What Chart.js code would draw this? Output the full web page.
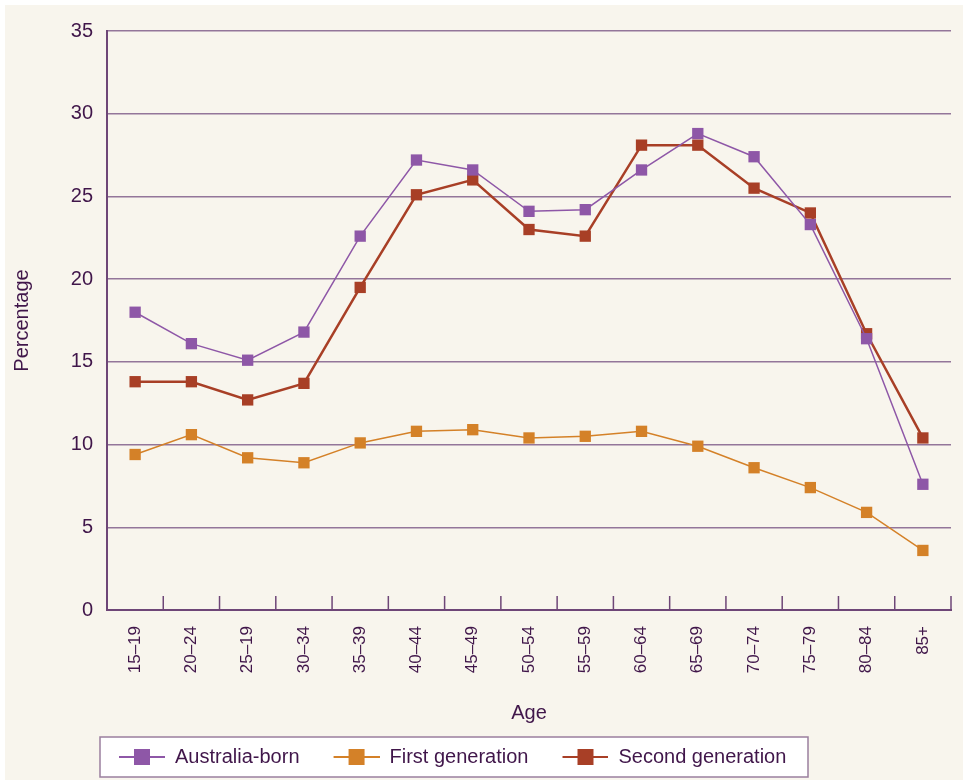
<!DOCTYPE html>
<html>
<head>
<meta charset="utf-8">
<script src="https://cdn.jsdelivr.net/npm/chart.js@4.4.1/dist/chart.umd.min.js"></script>
<style>
  html, body { margin: 0; padding: 0; background: #ffffff; }
  #wrap { position: absolute; left: 5px; top: 5px; width: 958px; height: 775px; background: #f8f5ed; }
  canvas { display: block; }
</style>
</head>
<body>
<div id="wrap"><canvas id="c" width="958" height="775"></canvas></div>
<script>
const ageGroups = ['15–19','20–24','25–19','30–34','35–39','40–44','45–49','50–54','55–59','60–64','65–69','70–74','75–79','80–84','85+'];
const australiaBorn = [18.0, 16.1, 15.1, 16.8, 22.6, 27.2, 26.6, 24.1, 24.2, 26.6, 28.8, 27.4, 23.3, 16.4, 7.6];
const firstGeneration = [9.4, 10.6, 9.2, 8.9, 10.1, 10.8, 10.9, 10.4, 10.5, 10.8, 9.9, 8.6, 7.4, 5.9, 3.6];
const secondGeneration = [13.8, 13.8, 12.7, 13.7, 19.5, 25.1, 26.0, 23.0, 22.6, 28.1, 28.1, 25.5, 24.0, 16.7, 10.4];
const yTicks = [0, 5, 10, 15, 20, 25, 30, 35];

const TEXT = '#40164a';
const GRID = '#93769a';
const AXIS = '#6e4677';
const FONT = "'Liberation Sans', Arial, Helvetica, sans-serif";

function legendMarker(color) {
  const c = document.createElement('canvas');
  c.width = 70; c.height = 18;
  const g = c.getContext('2d');
  g.strokeStyle = color; g.lineWidth = 2;
  g.beginPath(); g.moveTo(24, 9); g.lineTo(70, 9); g.stroke();
  g.fillStyle = color;
  g.fillRect(39, 1, 16, 16);
  return c;
}

const colors = { aus: '#8e57a7', first: '#d48128', second: '#a83f26' };

const boxPlugin = {
  id: 'boxPlugin',
  afterLayout(chart) {
    const lg = chart.legend;
    const w = lg.right - lg.left;
    lg.left = 80;
    lg.right = 80 + w;
  },
  beforeDraw(chart) {
    const lg = chart.legend;
    const ctx = chart.ctx;
    ctx.save();
    ctx.fillStyle = '#ffffff';
    ctx.fillRect(95, lg.top, 708, lg.bottom - lg.top);
    ctx.strokeStyle = '#9a7f9e';
    ctx.lineWidth = 1.5;
    ctx.strokeRect(95, lg.top, 708, lg.bottom - lg.top);
    ctx.restore();
  },
  afterDatasetsDraw(chart) {
    const xs = chart.scales.x;
    const ctx = chart.ctx;
    const bottom = chart.chartArea.bottom;
    ctx.save();
    ctx.strokeStyle = AXIS;
    ctx.lineWidth = 1.5;
    for (let i = 0; i <= ageGroups.length; i++) {
      const x = xs.getPixelForValue(i - 0.5);
      ctx.beginPath();
      ctx.moveTo(x, bottom);
      ctx.lineTo(x, bottom - 14);
      ctx.stroke();
    }
    ctx.restore();
  }
};

new Chart(document.getElementById('c'), {
  type: 'line',
  data: {
    labels: ageGroups,
    datasets: [
      { label: 'Australia-born', data: australiaBorn, borderColor: colors.aus, backgroundColor: colors.aus,
        borderWidth: 1.5, pointStyle: 'rect', pointRadius: 8, pointBorderWidth: 0, tension: 0 },
      { label: 'First generation', data: firstGeneration, borderColor: colors.first, backgroundColor: colors.first,
        borderWidth: 1.5, pointStyle: 'rect', pointRadius: 8, pointBorderWidth: 0, tension: 0 },
      { label: 'Second generation', data: secondGeneration, borderColor: colors.second, backgroundColor: colors.second,
        borderWidth: 2.5, pointStyle: 'rect', pointRadius: 8, pointBorderWidth: 0, tension: 0 }
    ]
  },
  options: {
    responsive: false,
    animation: false,
    layout: { padding: { top: 24, right: 12, bottom: 3, left: 0 } },
    plugins: {
      tooltip: { enabled: false },
      legend: {
        position: 'bottom',
        align: 'start',
        labels: {
          usePointStyle: true,
          pointStyleWidth: 70,
          padding: 10,
          color: TEXT,
          font: { family: FONT, size: 20 },
          generateLabels(chart) {
            const keys = ['aus', 'first', 'second'];
            return chart.data.datasets.map((ds, i) => ({
              text: ds.label,
              pointStyle: legendMarker(colors[keys[i]]),
              fillStyle: ds.backgroundColor,
              strokeStyle: ds.borderColor,
              lineWidth: 0,
              fontColor: TEXT,
              datasetIndex: i,
              hidden: false
            }));
          }
        }
      }
    },
    scales: {
      x: {
        offset: true,
        afterFit(s) { s.height = 127; },
        grid: { display: false, drawTicks: false, offset: true },
        border: { display: true, color: AXIS, width: 2 },
        ticks: { color: TEXT, font: { family: FONT, size: 17 }, minRotation: 90, maxRotation: 90, padding: 16, autoSkip: false },
        title: { display: true, text: 'Age', color: TEXT, font: { family: FONT, size: 20 }, padding: { top: 0, bottom: 12 } }
      },
      y: {
        min: 0, max: 35,
        afterFit(s) { s.width = 102; },
        afterBuildTicks(s) { s.ticks = yTicks.map(v => ({ value: v })); },
        grid: { color: GRID, lineWidth: 1.5, drawTicks: false },
        border: { display: true, color: AXIS, width: 2 },
        ticks: { color: TEXT, font: { family: FONT, size: 20 }, padding: 14 },
        title: { display: true, text: 'Percentage', color: TEXT, font: { family: FONT, size: 20 }, padding: { top: 5, bottom: 0 } }
      }
    }
  },
  plugins: [boxPlugin]
});
</script>
</body>
</html>
